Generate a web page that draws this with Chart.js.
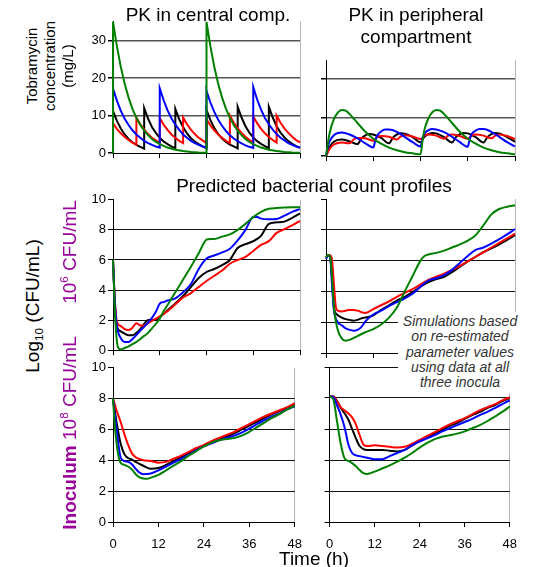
<!DOCTYPE html>
<html>
<head>
<meta charset="utf-8">
<script src="https://cdn.jsdelivr.net/npm/chart.js@4.4.0/dist/chart.umd.min.js"></script>
<style>
  body { margin: 0; width: 549px; height: 567px; position: relative; overflow: hidden; background: #fff;
         font-family: "Liberation Sans", Arial, sans-serif; color: #000; }
  canvas { position: absolute; }
  .lbl { position: absolute; white-space: nowrap; transform: translate(-50%, -50%); line-height: 1; }
  .rot { transform: translate(-50%, -50%) rotate(-90deg); }
  .title { font-size: 19px; }
  .purple { color: #990099; font-size: 19px; }
  sup, sub { font-size: 62%; line-height: 0; }
  #note { position: absolute; left: 398px; top: 312px; width: 124px; height: 81px; background: #fff;
          font-style: italic; font-size: 14px; line-height: 15.3px; color: #333; text-align: center;
          padding-top: 2px; box-sizing: border-box; }
</style>
</head>
<body>
<canvas id="pkCentral"></canvas>
<canvas id="pkPeripheral"></canvas>
<canvas id="b6Left"></canvas>
<canvas id="b6Right"></canvas>
<canvas id="b8Left"></canvas>
<canvas id="b8Right"></canvas>

<div class="lbl title" style="left:208px;top:13.5px">PK in central comp.</div>
<div class="lbl title" style="left:416px;top:14px">PK in peripheral</div>
<div class="lbl title" style="left:416px;top:36px">compartment</div>
<div class="lbl title" style="left:314px;top:185px">Predicted bacterial count profiles</div>
<div class="lbl title" style="left:314px;top:558px">Time (h)</div>

<div class="lbl rot" style="left:31px;top:66px;font-size:15px">Tobramycin</div>
<div class="lbl rot" style="left:49px;top:66px;font-size:15px">concentration</div>
<div class="lbl rot" style="left:67px;top:66px;font-size:15px">(mg/L)</div>
<div class="lbl rot" style="left:32px;top:306px;font-size:19px">Log<sub>10</sub> (CFU/mL)</div>
<div class="lbl rot purple" style="left:69px;top:252px">10<sup>6</sup> CFU/mL</div>
<div class="lbl rot purple" style="left:69px;top:433px"><b>Inoculum</b> 10<sup>8</sup> CFU/mL</div>

<div id="note">Simulations based<br>on re-estimated<br>parameter values<br>using data at all<br>three inocula</div>

<script>
// ---------- data (time h, value) ----------
const timeTicks = [0, 12, 24, 36, 48];
const pkCentralTicks = [0, 10, 20, 30];
const pkPeripheralTicks = [0, 10, 20];
const logTicks = [0, 2, 4, 6, 8, 10];

// PK central compartment (mg/L)
const pkcGreen = [[0,0],[0,35],[1,28.5],[2,23],[3,18.5],[4,14.8],[5,11.8],[6,9.4],[7,7.5],[8,6],[9,4.8],[10,3.8],[11,3],[12,2.4],[14,1.5],[16,0.9],[18,0.6],[20,0.35],[22,0.2],[24,0.1],
  [24,35],[25,28.5],[26,23],[27,18.5],[28,14.8],[29,11.8],[30,9.4],[31,7.5],[32,6],[33,4.8],[34,3.8],[35,3],[36,2.4],[38,1.5],[40,0.9],[42,0.6],[44,0.35],[46,0.2],[48,0.1]];
const pkcBlue = [[0,0],[0,17.2],[1,14],[2,11.3],[3,9.2],[4,7.5],[5,6.1],[6,5],[7,4.1],[8,3.3],[9,2.7],[10,2.2],[11,1.8],[12,1.5],
  [12,17.3],[13,14.1],[14,11.4],[15,9.3],[16,7.6],[17,6.2],[18,5],[19,4.1],[20,3.3],[21,2.7],[22,2.2],[23,1.8],[24,1.5],
  [24,16.6],[25,13.5],[26,11],[27,8.9],[28,7.3],[29,5.9],[30,4.8],[31,3.9],[32,3.2],[33,2.6],[34,2.1],[35,1.7],[36,1.4],
  [36,17.6],[37,14.3],[38,11.6],[39,9.4],[40,7.7],[41,6.3],[42,5.1],[43,4.1],[44,3.4],[45,2.7],[46,2.2],[47,1.8],[48,1.5]];
const pkcBlack = [[0,0],[0,11.3],[1,8.6],[2,6.6],[3,5],[4,3.8],[5,2.9],[6,2.2],[7,1.7],[8,1.2],
  [8,12],[9,9.2],[10,7],[11,5.4],[12,4.1],[13,3.1],[14,2.4],[15,1.8],[16,1.3],
  [16,11.8],[17,9],[18,6.9],[19,5.3],[20,4],[21,3.1],[22,2.4],[23,1.8],[24,1.3],
  [24,11.5],[25,8.8],[26,6.7],[27,5.1],[28,3.9],[29,3],[30,2.3],[31,1.8],[32,1.3],
  [32,12.4],[33,9.5],[34,7.2],[35,5.5],[36,4.2],[37,3.2],[38,2.5],[39,1.9],[40,1.3],
  [40,12.4],[41,9.5],[42,7.2],[43,5.5],[44,4.2],[45,3.2],[46,2.5],[47,1.9],[48,1.4]];
const pkcRed = [[0,0],[0,8],[1,6.5],[2,5.3],[3,4.3],[4,3.5],[5,2.8],[6,2.3],
  [6,9.5],[7,7.7],[8,6.3],[9,5.1],[10,4.1],[11,3.4],[12,2.7],
  [12,9.4],[13,7.6],[14,6.2],[15,5],[16,4.1],[17,3.3],[18,2.7],
  [18,9.5],[19,7.7],[20,6.3],[21,5.1],[22,4.1],[23,3.4],[24,2.7],
  [24,9],[25,7.4],[26,6.1],[27,5],[28,4.1],[29,3.3],[30,2.7],
  [30,10],[31,8.1],[32,6.6],[33,5.4],[34,4.4],[35,3.5],[36,2.9],
  [36,9.8],[37,8],[38,6.5],[39,5.3],[40,4.3],[41,3.5],[42,2.8],
  [42,10],[43,8.1],[44,6.6],[45,5.4],[46,4.4],[47,3.5],[48,2.9]];

// PK peripheral compartment (mg/L)
const pkpGreen = [[0,0],[0.5,3.5],[1,6.3],[2,9.6],[3,11.3],[4,12],[5,11.8],[6,10.9],[8,8.6],[10,6.3],[12,4.5],[14,3.2],[16,2.2],[18,1.5],[20,1.0],[22,0.7],[24,0.45],
  [24.5,3.8],[25,6.8],[26,9.8],[27,11.4],[28,12],[29,11.8],[30,10.9],[32,8.6],[34,6.3],[36,4.5],[38,3.2],[40,2.2],[42,1.5],[44,1.0],[46,0.7],[48,0.45]];
const pkpBlue = [[0,0],[0.5,2.5],[1,4],[2,5.4],[3,6],[4,6.1],[6,5.6],[8,4.6],[10,3.3],[12,2.2],[12.5,4],[13,5.3],[14,6.4],[15,6.9],[16,6.9],[18,6.3],[20,5.0],[22,3.6],[24,2.5],
  [24.5,4.5],[25,5.8],[26,6.7],[27,7],[28,6.9],[30,6.2],[32,5],[34,3.6],[36,2.4],[36.5,4.4],[37,5.7],[38,6.6],[39,7],[40,7],[42,6.3],[44,5.0],[46,3.6],[48,2.5]];
const pkpBlack = [[0,0],[1,2.5],[2,3.7],[3,4.2],[4,4.3],[6,3.8],[8,3.1],[9,4.6],[10,5.4],[11,5.7],[12,5.6],[14,4.7],[16,3.3],[17,4.8],[18,5.6],[19,5.9],[20,5.8],[22,4.9],[24,3.6],
  [25,5],[26,5.7],[27,6],[28,5.9],[30,4.9],[32,3.5],[33,4.9],[34,5.7],[35,6],[36,5.9],[38,4.9],[40,3.5],[41,4.9],[42,5.7],[43,6],[44,5.9],[46,4.9],[48,3.7]];
const pkpRed = [[0,0],[1,2],[2,3],[3,3.4],[4,3.5],[6,3.3],[7,4.3],[8,4.7],[10,4.6],[12,4],[13,4.9],[14,5.2],[16,5],[18,4.3],[19,5.1],[20,5.4],[22,5.1],[24,4.4],
  [25,5.3],[26,5.6],[28,5.3],[30,4.5],[31,5.3],[32,5.6],[34,5.2],[36,4.5],[37,5.3],[38,5.6],[40,5.3],[42,4.6],[43,5.3],[44,5.6],[46,5.2],[48,4.4]];

// bacterial counts, 10^6 inoculum (log10 CFU/mL)
const b6lGreen = [[0,6],[0.5,2.5],[1,0.6],[1.5,0.1],[2,0.05],[3,0.15],[4,0.25],[5,0.4],[6,0.55],[7,0.75],[8,0.95],[9,1.15],[10,1.45],[11,1.75],[12,2.1],[13,2.6],[14,3.0],[16,3.85],[18,4.7],[20,5.55],[22,6.45],[24,7.35],[25,7.4],[26,7.4],[28,7.55],[30,7.7],[32,8.0],[34,8.4],[36,8.85],[38,9.2],[40,9.4],[42,9.45],[44,9.48],[46,9.5],[48,9.5]];
const b6lBlue = [[0,6],[0.5,3],[1,1.6],[2,0.8],[3,0.55],[4,0.55],[5,0.75],[6,1.0],[7,1.3],[8,1.55],[9,1.85],[10,2.15],[11,2.55],[12,3.1],[13,3.2],[14,3.3],[16,3.45],[18,3.85],[20,4.4],[22,5.4],[24,6.1],[26,6.3],[28,6.5],[30,6.75],[32,7.3],[34,8.0],[36,8.85],[37,8.85],[38,8.75],[40,8.7],[42,8.72],[44,8.95],[46,9.2],[48,9.38]];
const b6lBlack = [[0,6],[0.5,3],[1,1.6],[2,1.25],[3,1.1],[4,1.0],[5,1.0],[6,1.15],[7,1.4],[8,1.75],[9,2.0],[10,2.0],[11,2.0],[12,2.2],[14,2.65],[16,3.1],[18,3.6],[20,4.2],[22,4.8],[24,5.2],[26,5.4],[28,5.65],[30,6.0],[32,6.8],[34,7.05],[36,7.25],[38,7.6],[40,8.4],[42,8.5],[44,8.55],[46,8.8],[48,9.1]];
const b6lRed = [[0,6],[0.5,3.2],[1,1.9],[2,1.6],[3,1.4],[4,1.35],[5,1.5],[6,1.8],[7,1.65],[8,1.65],[9,1.8],[10,1.95],[12,2.25],[14,2.6],[16,3.05],[18,3.5],[20,3.8],[22,4.2],[24,4.6],[26,4.95],[28,5.3],[30,5.75],[32,6.0],[34,6.2],[36,6.6],[38,7.0],[40,7.25],[42,7.8],[44,8.05],[46,8.3],[48,8.6]];

const b6rGreen = [[0,6.2],[0.5,6.35],[1,6.3],[1.5,5],[2,3],[3,1.5],[4,0.95],[5,0.8],[6,0.85],[8,1.1],[10,1.35],[12,1.55],[14,1.85],[16,2.3],[18,2.95],[20,4.0],[22,5.0],[24,6.0],[25,6.3],[26,6.4],[28,6.5],[30,6.65],[32,6.85],[34,7.05],[36,7.3],[38,7.65],[40,8.3],[42,9.0],[44,9.35],[46,9.5],[48,9.6]];
const b6rBlue = [[0,6.1],[0.5,6.3],[1,6.3],[1.5,4.5],[2,2.8],[3,2.0],[4,1.8],[5,1.6],[6,1.5],[7,1.45],[8,1.5],[9,1.7],[10,2.05],[11,2.3],[12,2.5],[14,2.75],[16,3.05],[18,3.3],[20,3.55],[22,3.85],[24,4.3],[26,4.7],[28,4.85],[30,5.05],[32,5.4],[34,5.85],[36,6.3],[38,6.7],[40,6.85],[42,7.1],[44,7.4],[46,7.7],[48,8.05]];
const b6rBlack = [[0,6.2],[0.5,6.35],[1,6.3],[1.5,5],[2,3],[3,2.45],[4,2.3],[5,2.2],[6,2.15],[7,2.1],[8,2.15],[9,2.25],[10,2.3],[11,2.35],[12,2.45],[14,2.8],[16,3.1],[18,3.4],[20,3.65],[22,3.95],[24,4.3],[26,4.6],[28,4.8],[30,4.95],[32,5.25],[34,5.6],[36,5.95],[38,6.25],[40,6.55],[42,6.8],[44,7.05],[46,7.35],[48,7.65]];
const b6rRed = [[0,6.2],[0.5,6.35],[1,6.35],[1.5,6.1],[2,4.5],[2.5,3.0],[3,2.75],[4,2.7],[5,2.75],[6,2.8],[7,2.8],[8,2.75],[9,2.65],[10,2.6],[11,2.7],[12,2.85],[14,3.1],[16,3.35],[18,3.65],[20,3.9],[22,4.15],[24,4.45],[26,4.75],[28,4.95],[30,5.15],[32,5.4],[34,5.65],[36,5.95],[38,6.25],[40,6.55],[42,6.85],[44,7.15],[46,7.45],[48,7.75]];

// bacterial counts, 10^8 inoculum (log10 CFU/mL)
const b8lGreen = [[0,8],[0.5,6.2],[1,5.0],[1.5,4.2],[2,3.85],[3,3.7],[4,3.6],[5,3.4],[6,3.1],[7,2.9],[8,2.82],[9,2.8],[10,2.88],[12,3.05],[14,3.35],[16,3.65],[18,3.95],[20,4.3],[22,4.6],[24,4.9],[26,5.15],[28,5.3],[30,5.38],[32,5.45],[34,5.6],[36,5.85],[38,6.15],[40,6.45],[42,6.75],[44,7.0],[46,7.3],[48,7.55]];
const b8lBlue = [[0,8],[1,5.9],[2,4.2],[3,3.95],[4,3.9],[5,3.75],[6,3.45],[7,3.2],[8,3.1],[10,3.15],[12,3.35],[14,3.6],[16,3.85],[18,4.1],[20,4.35],[22,4.65],[24,4.9],[26,5.1],[28,5.3],[30,5.45],[32,5.6],[34,5.8],[36,6.05],[38,6.35],[40,6.6],[42,6.85],[44,7.05],[46,7.3],[48,7.5]];
const b8lBlack = [[0,8],[1,6.4],[2,5.1],[3,4.4],[4,4.15],[5,4.05],[6,3.9],[8,3.65],[10,3.45],[12,3.5],[14,3.7],[16,3.95],[18,4.2],[20,4.45],[22,4.7],[24,4.95],[26,5.2],[28,5.4],[30,5.55],[32,5.75],[34,6.0],[36,6.25],[38,6.5],[40,6.75],[42,7.0],[44,7.2],[46,7.4],[48,7.6]];
const b8lRed = [[0,8],[1,7.2],[2,6.5],[3,5.7],[4,5.0],[5,4.45],[6,4.2],[8,4.0],[10,3.95],[12,3.85],[14,3.9],[16,4.1],[18,4.3],[20,4.55],[22,4.8],[24,5.0],[26,5.25],[28,5.45],[30,5.65],[32,5.85],[34,6.1],[36,6.35],[38,6.6],[40,6.85],[42,7.05],[44,7.25],[46,7.45],[48,7.7]];

const b8rGreen = [[0,8.1],[1,7.9],[2,6.45],[3,5.0],[4,4.1],[5,3.95],[6,3.8],[7,3.6],[8,3.35],[9,3.15],[10,3.1],[12,3.25],[14,3.45],[16,3.65],[18,3.9],[20,4.15],[22,4.45],[24,4.8],[26,5.1],[28,5.35],[30,5.5],[32,5.6],[34,5.7],[36,5.85],[38,6.05],[40,6.25],[42,6.5],[44,6.8],[46,7.1],[48,7.45]];
const b8rBlue = [[0,8.1],[1,8.05],[2,7.5],[3,6.9],[4,6.1],[5,5.0],[6,4.45],[7,4.3],[8,4.25],[10,4.15],[12,4.05],[14,4.05],[16,4.25],[18,4.45],[20,4.65],[22,4.95],[24,5.2],[26,5.4],[28,5.6],[30,5.85],[32,6.05],[34,6.25],[36,6.45],[38,6.65],[40,6.9],[42,7.1],[44,7.35],[46,7.6],[48,7.85]];
const b8rBlack = [[0,8.1],[1,8.1],[2,7.8],[3,7.35],[4,7.0],[5,6.6],[6,6.0],[7,5.4],[8,4.9],[9,4.7],[10,4.65],[12,4.65],[14,4.65],[16,4.6],[18,4.55],[20,4.65],[22,4.95],[24,5.2],[26,5.45],[28,5.7],[30,5.95],[32,6.2],[34,6.4],[36,6.65],[38,6.9],[40,7.1],[42,7.35],[44,7.55],[46,7.8],[48,8.0]];
const b8rRed = [[0,8.1],[1,8.1],[2,7.75],[3,7.4],[4,7.2],[5,7.0],[6,6.75],[7,6.3],[8,5.6],[9,5.0],[10,4.9],[12,4.95],[14,4.9],[16,4.85],[18,4.8],[20,4.85],[22,5.05],[24,5.3],[26,5.55],[28,5.8],[30,6.05],[32,6.3],[34,6.5],[36,6.7],[38,6.95],[40,7.2],[42,7.4],[44,7.6],[46,7.85],[48,8.05]];

// ---------- drawing ----------
const FONT = "'Liberation Sans', Arial, sans-serif";
const GREEN = '#008000', BLUE = '#0000ff', BLACK = '#000000', RED = '#ff0000';
const CLEAR = 'rgba(0,0,0,0)';

function makePanel(id, box, yMax, yTicks, lines, opt) {
    const canvas = document.getElementById(id);
    const padTop = 9, padRight = 12;
    canvas.width = box.yw + box.w + padRight;
    canvas.height = padTop + box.h + box.xh;
    canvas.style.left = (box.x - box.yw) + 'px';
    canvas.style.top = (box.y - padTop) + 'px';

    // first dataset is drawn on top: green, blue, red, black
    const datasets = lines.map(l => ({
        data: l.data.map(p => ({ x: p[0], y: p[1] })),
        borderColor: l.color,
        borderWidth: 2,
        pointRadius: 0,
        tension: 0,
        cubicInterpolationMode: opt.smooth ? 'monotone' : 'default',
        clip: 4
    }));

    new Chart(canvas, {
        type: 'line',
        data: { datasets },
        options: {
            responsive: false, animation: false, devicePixelRatio: 1,
            layout: { autoPadding: false, padding: { top: padTop, right: padRight, left: 0, bottom: 0 } },
            plugins: { legend: { display: false }, tooltip: { enabled: false } },
            scales: {
                x: {
                    type: 'linear', min: 0, max: 48,
                    afterBuildTicks: s => { s.ticks = timeTicks.map(v => ({ value: v })); },
                    ticks: { display: !!opt.xLabels, color: '#000', font: { family: FONT, size: 13 }, maxRotation: 0, padding: 10 },
                    grid: { color: c => (c.tick && c.tick.value === 48) ? '#b4b4b4' : CLEAR, tickColor: '#000', tickLength: 5, lineWidth: 1 },
                    border: { color: '#000', width: 1 },
                    afterFit: s => { s.height = box.xh; }
                },
                y: {
                    type: 'linear', min: 0, max: yMax,
                    afterBuildTicks: s => { s.ticks = yTicks.map(v => ({ value: v })); },
                    ticks: { display: !!opt.yLabels, color: '#000', font: { family: FONT, size: 13 }, padding: 2 },
                    grid: {
                        color: c => {
                            const v = c.tick ? c.tick.value : 0;
                            if (v === 0) return CLEAR;
                            if (v === yMax && !opt.topGrid) return CLEAR;
                            return opt.gridColor;
                        },
                        tickColor: '#000', tickLength: 5, lineWidth: opt.gridWidth || 1
                    },
                    border: { color: '#000', width: 1 },
                    afterFit: s => { s.width = box.yw; }
                }
            }
        }
    });
}

const lineSet = (g, b, r, k) => [
    { data: g, color: GREEN }, { data: b, color: BLUE }, { data: r, color: RED }, { data: k, color: BLACK }
];

makePanel('pkCentral', { x: 113, y: 21, w: 187, h: 135, yw: 40, xh: 7 }, 35, pkCentralTicks,
    lineSet(pkcGreen, pkcBlue, pkcRed, pkcBlack), { yLabels: true, gridColor: '#555', gridWidth: 1.5 });
makePanel('pkPeripheral', { x: 326, y: 60, w: 189, h: 96, yw: 10, xh: 7 }, 25, pkPeripheralTicks,
    lineSet(pkpGreen, pkpBlue, pkpRed, pkpBlack), { smooth: true, gridColor: '#555', gridWidth: 1.5 });
makePanel('b6Left', { x: 113, y: 199, w: 187, h: 154, yw: 40, xh: 7 }, 10, logTicks,
    lineSet(b6lGreen, b6lBlue, b6lRed, b6lBlack), { smooth: true, yLabels: true, gridColor: '#111' });
makePanel('b6Right', { x: 326, y: 199, w: 189, h: 154, yw: 10, xh: 7 }, 10, logTicks,
    lineSet(b6rGreen, b6rBlue, b6rRed, b6rBlack), { smooth: true, gridColor: '#111' });
makePanel('b8Left', { x: 113, y: 367, w: 187, h: 155, yw: 40, xh: 36 }, 10, logTicks,
    lineSet(b8lGreen, b8lBlue, b8lRed, b8lBlack), { smooth: true, yLabels: true, xLabels: true, gridColor: '#111' });
makePanel('b8Right', { x: 326, y: 367, w: 189, h: 155, yw: 10, xh: 36 }, 10, logTicks,
    lineSet(b8rGreen, b8rBlue, b8rRed, b8rBlack), { smooth: true, xLabels: true, gridColor: '#111', topGrid: true });
</script>
</body>
</html>
